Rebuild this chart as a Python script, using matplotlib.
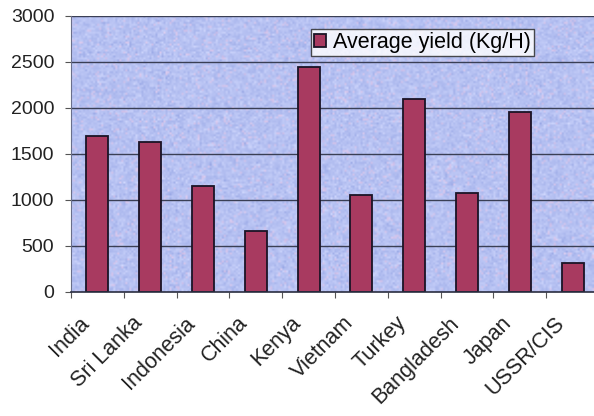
import numpy as np
import matplotlib
matplotlib.use("Agg")
import matplotlib.pyplot as plt
from matplotlib.colors import to_rgb

countries = ["India", "Sri Lanka", "Indonesia", "China", "Kenya",
             "Vietnam", "Turkey", "Bangladesh", "Japan", "USSR/CIS"]
avg_yield = [1700, 1630, 1150, 660, 2450, 1050, 2100, 1080, 1960, 320]
y_ticks = [0, 500, 1000, 1500, 2000, 2500, 3000]
series_name = "Average yield (Kg/H)"

plt.rcParams["font.family"] = ["Liberation Sans", "DejaVu Sans"]

W, H = 594, 416
fig = plt.figure(figsize=(W / 100, H / 100), dpi=100)
fig.patch.set_facecolor("white")

left_px, right_px, top_px, bottom_px = 71, 594, 16, 292
ax = fig.add_axes([left_px / W, 1 - bottom_px / H,
                   (right_px - left_px) / W, (bottom_px - top_px) / H])

cat_w = 52.8
x = np.arange(len(countries))
ax.set_xlim(-0.5, (right_px - left_px) / cat_w - 0.5)
ax.set_ylim(0, 3000)

# speckled lavender plot-area fill
rng = np.random.default_rng(3)
base = np.array(to_rgb("#b6c1f2"))
tex = np.ones((140, 260, 3)) * base
n = rng.normal(0, 1, (140, 260))
tex += n[..., None] * np.array([0.035, 0.03, 0.015])
pink = rng.random((140, 260)) < 0.07
tex[pink] = tex[pink] * 0.45 + np.array(to_rgb("#ecc8e6")) * 0.55
tex = np.clip(tex, 0, 1)
ax.imshow(tex, extent=[0, 1, 0, 1], transform=ax.transAxes,
          aspect="auto", zorder=0, interpolation="bilinear")
ax.set_facecolor("#b6c1f2")

for yv in y_ticks[1:]:
    ax.axhline(yv, color="#3a3f55", lw=1.0, zorder=1)

ax.bar(x, avg_yield, width=0.42, color="#a83a60", edgecolor="#1a1426",
       linewidth=1.3, zorder=2, label=series_name)

fs = 14
ax.set_yticks(y_ticks)
ax.set_yticklabels([str(v) for v in y_ticks], fontsize=fs, color="#222222")
ax.set_xticks(np.arange(-0.5, len(countries) - 0.5, 1.0))
ax.set_xticklabels([])
ax.tick_params(axis="x", length=4, color="#555555")
ax.tick_params(axis="y", length=4, color="#555555", pad=8)

# category names, slanted, hanging below each bar
for xi, name in zip(x, countries):
    ax.annotate(name, xy=(xi, 0), xycoords=("data", "axes fraction"),
                xytext=(-11, -28), textcoords="offset pixels",
                rotation=45, rotation_mode="anchor", ha="right", va="center",
                fontsize=15.5, color="#222222", annotation_clip=False)

for side in ["top", "right"]:
    ax.spines[side].set_visible(False)
ax.spines["left"].set_color("#6a6f8a")
ax.spines["bottom"].set_color("#2a2d40")
ax.spines["bottom"].set_linewidth(1.2)

leg = ax.legend(loc="upper left", bbox_to_anchor=((311 - left_px) / (right_px - left_px),
                                                   1 - (29 - top_px) / (bottom_px - top_px)),
                fontsize=15.5, frameon=True, fancybox=False, borderpad=0.15,
                handlelength=0.55, handleheight=0.55, handletextpad=0.3,
                borderaxespad=0)
leg.get_frame().set_edgecolor("#222222")
leg.get_frame().set_linewidth(1.0)
leg.get_frame().set_facecolor("white")

fig.savefig("out.png", dpi=100)
